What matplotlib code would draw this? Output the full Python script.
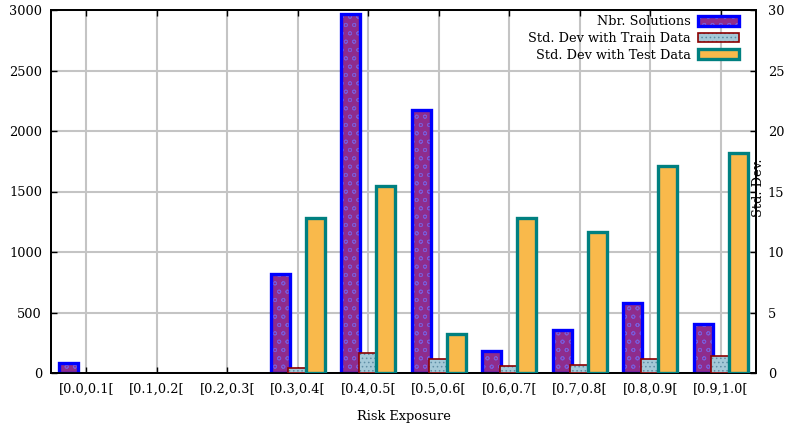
import numpy as np
import matplotlib
matplotlib.use("Agg")
import matplotlib.pyplot as plt
from matplotlib.patches import Patch
from matplotlib.legend_handler import HandlerTuple

# Risk exposure buckets and per-bucket results
CATEGORIES = ["[0.0,0.1[", "[0.1,0.2[", "[0.2,0.3[", "[0.3,0.4[", "[0.4,0.5[",
              "[0.5,0.6[", "[0.6,0.7[", "[0.7,0.8[", "[0.8,0.9[", "[0.9,1.0["]
NBR_SOLUTIONS = [85, 0, 0, 815, 2965, 2172, 185, 357, 577, 405]
STD_TRAIN = [0, 0, 0, 0.45, 1.63, 1.18, 0.6, 0.66, 1.17, 1.43]
STD_TEST = [0, 0, 0, 12.8, 15.45, 3.2, 12.85, 11.62, 17.1, 18.15]

plt.rcParams["font.family"] = ["DejaVu Serif"]
plt.rcParams["hatch.linewidth"] = 0.6

PURPLE, PURPLE_HATCH, PURPLE_EDGE = "#8e2c8c", "#7a5ad8", "#0000ff"
TRAIN, TRAIN_HATCH, TRAIN_EDGE = "#a4c9d8", "#5f8ea6", "#8b0000"
TEST, TEST_EDGE = "#f9b94b", "#008080"

FS = 9.3
x = np.arange(len(CATEGORIES))
w = 0.27
off = 0.25

fig = plt.figure(figsize=(7.88, 4.25), dpi=100)
ax = fig.add_axes([51 / 788, 1 - 373 / 425, 705 / 788, 363 / 425])
ax2 = ax.twinx()

sol = np.array(NBR_SOLUTIONS)
tr = np.array(STD_TRAIN)
te = np.array(STD_TEST)
m_sol, m_tr, m_te = sol > 0, tr > 0, te > 0

# left axis: number of solutions (empty buckets get no bar)
ax.bar(x[m_sol] - off, sol[m_sol], w, color=PURPLE, edgecolor=PURPLE_HATCH,
       hatch="oo", linewidth=0, zorder=3)
ax.bar(x[m_sol] - off, sol[m_sol], w, fill=False, edgecolor=PURPLE_EDGE,
       linewidth=2.4, zorder=4)

# right axis: std devs
ax2.bar(x[m_tr], tr[m_tr], w, color=TRAIN, edgecolor=TRAIN_HATCH,
        hatch="....", linewidth=0, zorder=3)
ax2.bar(x[m_tr], tr[m_tr], w, fill=False, edgecolor=TRAIN_EDGE,
        linewidth=1.2, zorder=4)
ax2.bar(x[m_te] + off, te[m_te], w, color=TEST, edgecolor=TEST_EDGE,
        linewidth=2.4, zorder=5)

ax.set_xlim(-0.5, 9.5)
ax.set_ylim(0, 3000)
ax2.set_ylim(0, 30)
ax.set_yticks(np.arange(0, 3001, 500))
ax2.set_yticks(np.arange(0, 31, 5))
ax.set_xticks(x)
ax.set_xticklabels(CATEGORIES, fontsize=FS)
ax.tick_params(axis="y", direction="in", labelsize=FS, pad=6.5, length=4, width=1)
ax.tick_params(axis="x", direction="in", top=True, pad=7, length=4, width=1)
ax2.tick_params(axis="y", direction="in", labelsize=FS, pad=8.5, length=4, width=1)

ax.grid(True, color="#c4c4c4", linewidth=1.5, zorder=0)
ax.set_axisbelow(True)
for a in (ax, ax2):
    for s in a.spines.values():
        s.set_linewidth(1.3)

ax.set_xlabel("Risk Exposure", fontsize=FS, labelpad=10)
fig.text(759 / 788, 1 - 188 / 425, "Std. Dev.", rotation=90, fontsize=FS,
         ha="center", va="center")

# legend swatches: hatched fill with the outline laid on top
h_sol = (Patch(facecolor=PURPLE, edgecolor=PURPLE_HATCH, hatch="oo", linewidth=0),
         Patch(fill=False, edgecolor=PURPLE_EDGE, linewidth=2.4))
h_tr = (Patch(facecolor=TRAIN, edgecolor=TRAIN_HATCH, hatch="....", linewidth=0),
        Patch(fill=False, edgecolor=TRAIN_EDGE, linewidth=1.2))
h_te = Patch(facecolor=TEST, edgecolor=TEST_EDGE, linewidth=2.4)
leg = ax2.legend([h_sol, h_tr, h_te],
                 ["Nbr. Solutions", "Std. Dev with Train Data", "Std. Dev with Test Data"],
                 handler_map={tuple: HandlerTuple(ndivide=1, pad=0)},
                 loc="upper right", bbox_to_anchor=(0.976, 0.986),
                 frameon=False, markerfirst=False, fontsize=FS,
                 handlelength=3.2, handleheight=0.8, handletextpad=0.55,
                 labelspacing=0.3, borderpad=0, borderaxespad=0)
leg.set_zorder(10)

fig.savefig("out.png", dpi=100)
